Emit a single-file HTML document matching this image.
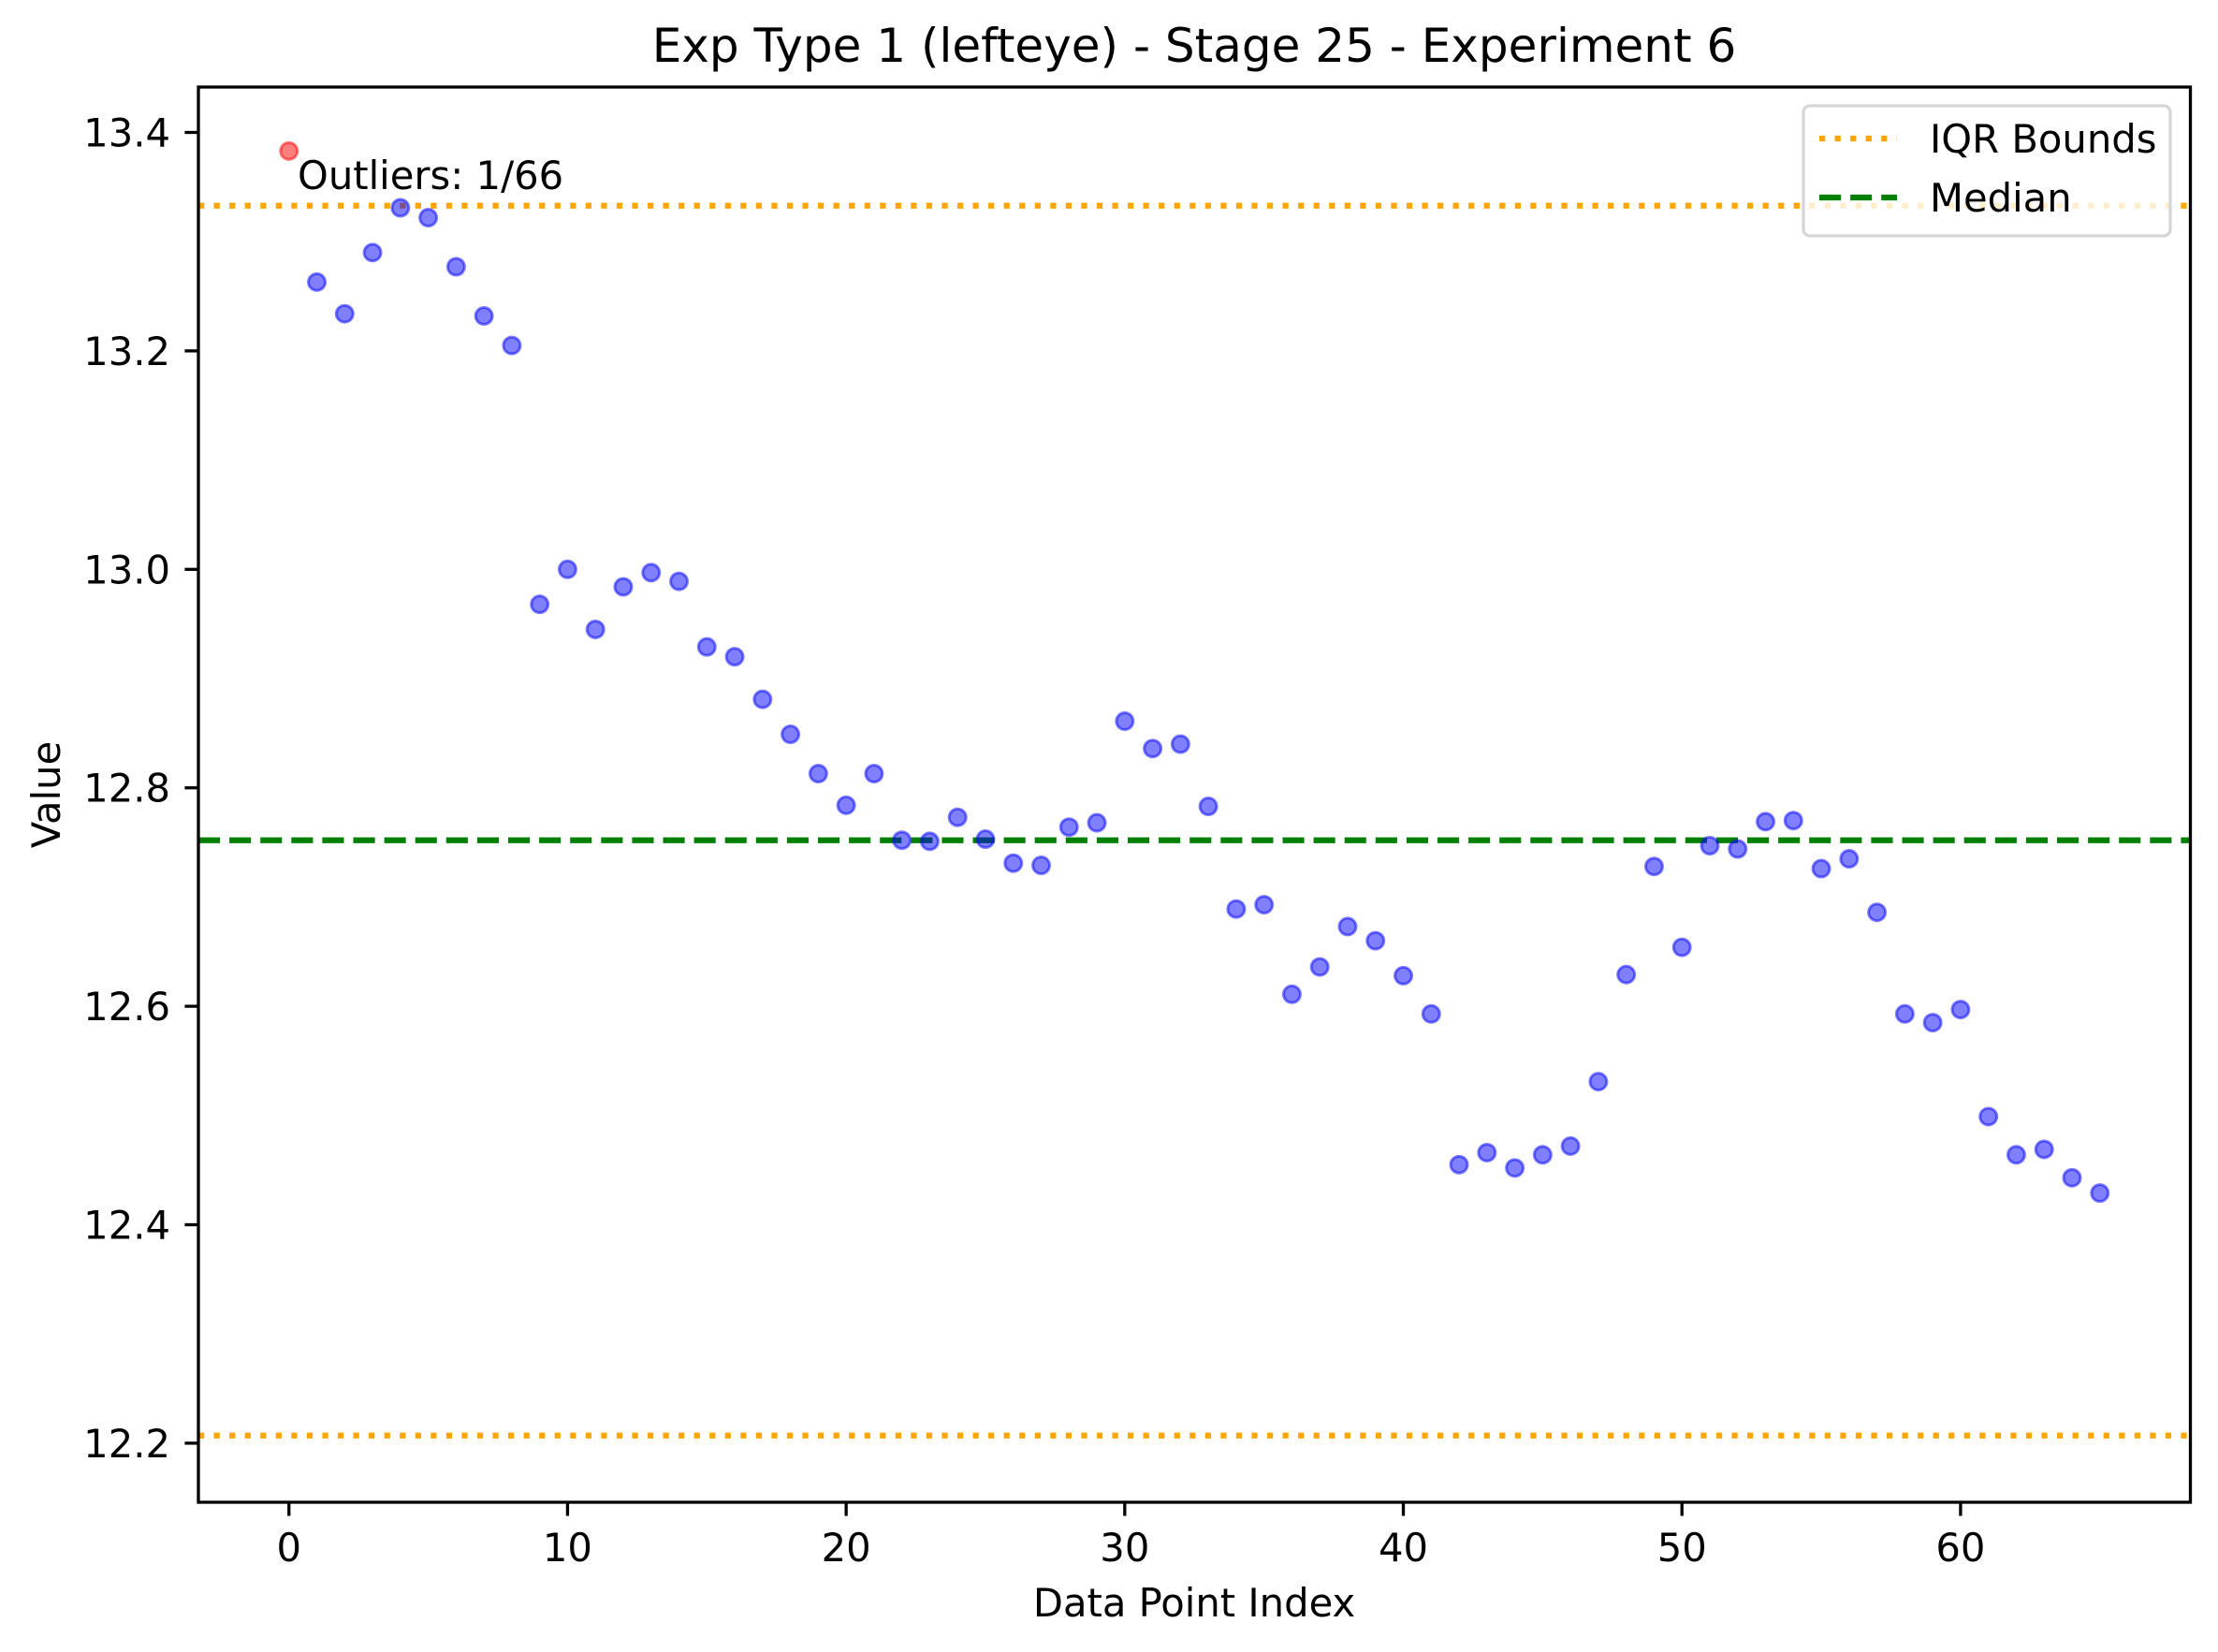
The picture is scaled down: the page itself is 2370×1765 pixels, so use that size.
<!DOCTYPE html>
<html><head><meta charset="utf-8"><style>
html,body{margin:0;padding:0;background:#fff;}
svg{display:block;font-family:"DejaVu Sans","Liberation Sans",sans-serif;}
</style></head><body>
<svg id="chart" width="2370" height="1765" viewBox="0 0 2370 1765" xmlns="http://www.w3.org/2000/svg">
<rect width="2370" height="1765" fill="#fff"/>
<g id="grid-lines"></g>
<g id="points"></g>
<g id="axes"></g>
</svg>
<script>
const values = [13.383,13.263,13.234,13.290,13.331,13.322,13.277,13.232,13.205,12.968,13.000,12.945,12.984,12.997,12.989,12.929,12.920,12.881,12.849,12.813,12.784,12.813,12.752,12.751,12.773,12.753,12.731,12.729,12.764,12.768,12.861,12.836,12.840,12.783,12.689,12.693,12.611,12.636,12.673,12.660,12.628,12.593,12.455,12.466,12.452,12.464,12.472,12.531,12.629,12.728,12.654,12.747,12.744,12.769,12.770,12.726,12.735,12.686,12.593,12.585,12.597,12.499,12.464,12.469,12.443,12.429];
const outlierIdx = [0];
const iqrBounds = [12.207, 13.333];
const medianValue = [12.752];
const xTicks = [0,10,20,30,40,50,60];
const yTicks = [12.2,12.4,12.6,12.8,13.0,13.2,13.4];
const yTickLabels = ["12.2","12.4","12.6","12.8","13.0","13.2","13.4"];

const L=212, R=2340.5, T=93, B=1605;
const xMin=-3.25, xMax=68.25;
const yRef=13.4, yRefPx=141.5, pxPerUnit=1167;
function xs(v){return L+(v-xMin)/(xMax-xMin)*(R-L);}
function ys(v){return yRefPx-(v-yRef)*pxPerUnit;}
const NS="http://www.w3.org/2000/svg";
function mk(tag,attrs,parent,text){const e=document.createElementNS(NS,tag);for(const k in attrs)e.setAttribute(k,attrs[k]);if(text!==undefined)e.textContent=text;parent.appendChild(e);return e;}
const lines=document.getElementById('grid-lines');
const pts=document.getElementById('points');
const ax=document.getElementById('axes');

iqrBounds.forEach((v,i)=>{
  const l=mk('line',{x1:L,x2:R,y1:ys(v),y2:ys(v),stroke:'#ffa500','stroke-width':6.25,'stroke-dasharray':'6.25 10.3'},lines);
  
  
});
medianValue.forEach(v=>{
  const l=mk('line',{x1:L,x2:R,y1:ys(v),y2:ys(v),stroke:'#008000','stroke-width':6.25,'stroke-dasharray':'23.1 10'},lines);
  
  
});

values.forEach((v,i)=>{
  const out=outlierIdx.includes(i);
  const c=mk('circle',{cx:xs(i),cy:ys(v),r:9,fill:out?'rgba(255,0,0,0.5)':'rgba(0,0,255,0.5)',stroke:out?'rgba(255,0,0,0.5)':'rgba(0,0,255,0.5)','stroke-width':3},pts);
  
  
});

const ann=mk('text',{x:318,y:202,'font-size':41.7,fill:'#000'},ax,'Outliers: '+outlierIdx.length+'/'+values.length);



const fr=mk('rect',{x:L,y:T,width:R-L,height:B-T,fill:'none',stroke:'#000','stroke-width':3.3},ax);



xTicks.forEach(t=>{
  const x=xs(t);
  const tk=mk('line',{x1:x,x2:x,y1:B,y2:B+14.6,stroke:'#000','stroke-width':3.3},ax);
  
  
  const lb=mk('text',{x:x,y:1668,'font-size':41.7,'text-anchor':'middle'},ax,String(t));
  
  
});
yTicks.forEach((t,i)=>{
  const y=ys(t);
  const tk=mk('line',{x1:L-14.6,x2:L,y1:y,y2:y,stroke:'#000','stroke-width':3.3},ax);
  
  
  const lb=mk('text',{x:182,y:y+15,'font-size':41.7,'text-anchor':'end'},ax,yTickLabels[i]);
  
  
});

const ti=mk('text',{x:1276,y:66,'font-size':50,'text-anchor':'middle'},ax,'Exp Type 1 (lefteye) - Stage 25 - Experiment 6');


const xl=mk('text',{x:1276,y:1727,'font-size':41.7,'text-anchor':'middle'},ax,'Data Point Index');


const yl=mk('text',{x:0,y:0,'font-size':41.7,'text-anchor':'middle',transform:'translate(64,849) rotate(-90)'},ax,'Value');



const lg=mk('g',{},ax);


mk('rect',{x:1927,y:113,width:392,height:139,rx:7,fill:'rgba(255,255,255,0.8)',stroke:'#d6d6d6','stroke-width':3.3},lg);
const e1=mk('g',{},lg);


mk('line',{x1:1944,x2:2027,y1:148,y2:148,stroke:'#ffa500','stroke-width':6.25,'stroke-dasharray':'6.25 10.3'},e1);
mk('text',{x:2062,y:163,'font-size':41.7},e1,'IQR Bounds');
const e2=mk('g',{},lg);


mk('line',{x1:1944,x2:2027,y1:211,y2:211,stroke:'#008000','stroke-width':6.25,'stroke-dasharray':'23.1 10'},e2);
mk('text',{x:2062,y:226,'font-size':41.7},e2,'Median');
</script>
</body></html>
